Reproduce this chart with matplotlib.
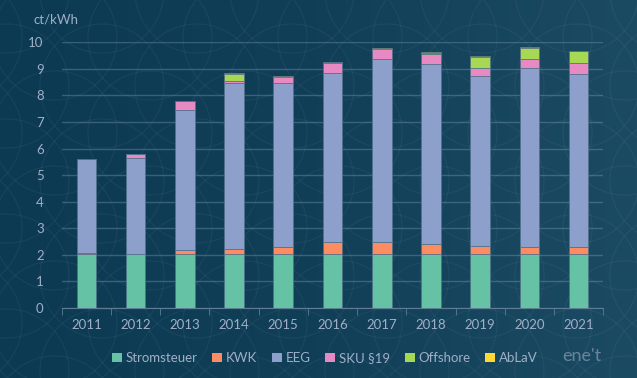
import matplotlib
matplotlib.use('Agg')
import matplotlib.pyplot as plt
import numpy as np
from matplotlib.patches import Circle

# Data (ct/kWh)
years = ['2011', '2012', '2013', '2014', '2015', '2016', '2017', '2018', '2019', '2020', '2021']
stromsteuer = [2.05, 2.05, 2.05, 2.05, 2.05, 2.05, 2.05, 2.05, 2.05, 2.05, 2.05]
kwk = [0.03, 0.00, 0.13, 0.18, 0.25, 0.45, 0.44, 0.35, 0.28, 0.23, 0.25]
eeg = [3.53, 3.59, 5.28, 6.24, 6.17, 6.35, 6.88, 6.79, 6.41, 6.76, 6.50]
sku19 = [0.00, 0.15, 0.33, 0.09, 0.22, 0.38, 0.39, 0.37, 0.29, 0.33, 0.41]
offshore = [0.00, 0.00, 0.00, 0.25, 0.01, 0.04, 0.00, 0.05, 0.42, 0.42, 0.45]
ablav = [0.00, 0.00, 0.00, 0.02, 0.03, 0.00, 0.03, 0.02, 0.02, 0.02, 0.02]

series = [
    ('Stromsteuer', stromsteuer, '#66c2a5'),
    ('KWK', kwk, '#fc8d62'),
    ('EEG', eeg, '#8da0cb'),
    ('SKU §19', sku19, '#e78ac3'),
    ('Offshore', offshore, '#a6d854'),
    ('AbLaV', ablav, '#ffd92f'),
]

text_color = '#a0afc7'
plt.rcParams['font.family'] = ['Lato', 'DejaVu Sans']

fig = plt.figure(figsize=(6.37, 3.78), dpi=100)

# background: gradient with faint circle pattern
bg = fig.add_axes([0, 0, 1, 1])
bg.set_axis_off()
grad = np.linspace(0, 1, 256)[None, :]
cmap = matplotlib.colors.LinearSegmentedColormap.from_list('bg', ['#0d3a53', '#113f58', '#1b4b63'])
bg.imshow(grad, aspect='auto', cmap=cmap, extent=[0, 637, 0, 378], zorder=0)
for cx in np.arange(-40, 700, 95):
    for cy in np.arange(-40, 430, 95):
        for dx, dy in [(0, 0), (47, 47)]:
            bg.add_patch(Circle((cx + dx, cy + dy), 62, fill=False, ec='#ffffff', lw=0.9, alpha=0.045))
bg.set_xlim(0, 637)
bg.set_ylim(0, 378)

ax = fig.add_axes([0.097, 0.185, 0.85, 0.703])
ax.patch.set_alpha(0)

x = np.arange(len(years))
bottom = np.zeros(len(years))
for label, values, color in series:
    ax.bar(x, values, 0.4, bottom=bottom, color=color, edgecolor='#50708a', linewidth=0.5,
           label=label, zorder=3)
    bottom += np.array(values)

ax.set_xlim(-0.5, len(years) - 0.5)
ax.set_ylim(0, 10)
ax.set_yticks(range(0, 11))
ax.yaxis.grid(True, color='#8aa6b8', alpha=0.35, linewidth=1)
ax.set_axisbelow(True)
for side in ['top', 'right', 'left']:
    ax.spines[side].set_visible(False)
ax.spines['bottom'].set_color('#5d7d92')
ax.set_xticks(x)
ax.set_xticklabels(years)
ax.set_xticks(np.arange(-0.5, len(years)), minor=True)
ax.tick_params(axis='x', which='major', length=0, pad=8, labelsize=9.5, labelcolor=text_color)
ax.tick_params(axis='x', which='minor', length=5, color='#5d7d92')
ax.tick_params(axis='y', length=0, pad=13, labelsize=9.5, labelcolor=text_color)

fig.text(33 / 637, 1 - 20 / 378, 'ct/kWh', color=text_color, fontsize=9.5, va='center', ha='left')

handles, labels = ax.get_legend_handles_labels()
leg = fig.legend(handles, labels, loc='center', bbox_to_anchor=(325 / 637, 1 - 358 / 378), ncol=6,
                 frameon=False, fontsize=9.5, handlelength=0.75, handleheight=0.75, handletextpad=0.3,
                 columnspacing=1.1, labelcolor=text_color)
for h in leg.legend_handles:
    h.set_linewidth(0)

fig.text(582 / 637, 1 - 356 / 378, "ene't", color='#7f93a8', fontsize=13, ha='center', va='center',
         alpha=0.8)

fig.savefig('out.png', dpi=100)
